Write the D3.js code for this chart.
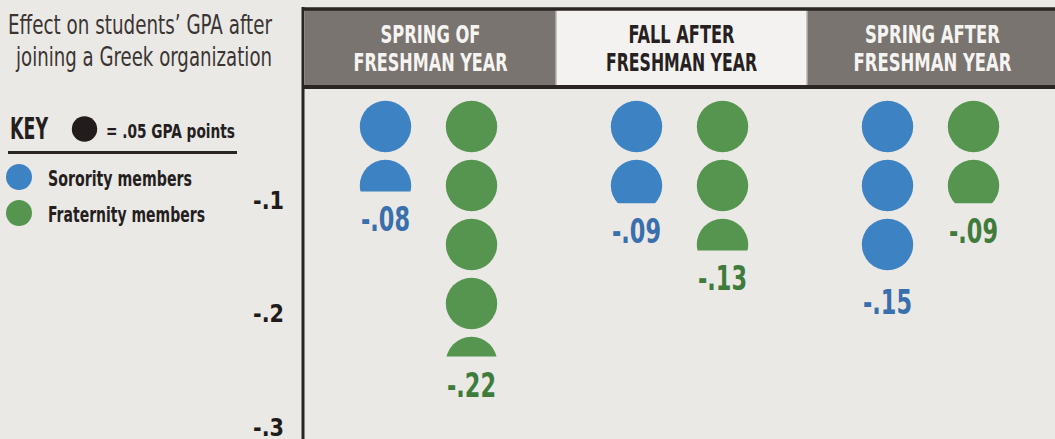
<!DOCTYPE html>
<html>
<head>
<meta charset="utf-8">
<script src="https://cdn.jsdelivr.net/npm/d3@7"></script>
<style>
  body { margin: 0; background: #ebe9e6; }
  svg { display: block; }
</style>
</head>
<body>
<script>
// data
var periods = ["SPRING OF|FRESHMAN YEAR", "FALL AFTER|FRESHMAN YEAR", "SPRING AFTER|FRESHMAN YEAR"];
var groups = ["Sorority members", "Fraternity members"];
var sorority = [-0.08, -0.09, -0.15];
var fraternity = [-0.22, -0.13, -0.09];
var yTicks = [-0.1, -0.2, -0.3];
var tickLabels = ["-.1", "-.2", "-.3"];
var dotValue = 0.05;

var width = 1055, height = 439;
var font = "'Liberation Sans Narrow', 'DejaVu Sans Condensed', 'Roboto', sans-serif";
var ink = "#2a2523";
var colors = {"Sorority members": "#3d82c2", "Fraternity members": "#559550"};
var labelColors = {"Sorority members": "#3a6fad", "Fraternity members": "#3f7c3c"};
var headFill = ["#7a7471", "#f3f2f0", "#7a7471"];
var headText = ["#f6f4f1", "#262120", "#f6f4f1"];

const svg = d3.select("body").append("svg")
    .attr("width", width)
    .attr("height", height);

svg.append("rect").attr("width", width).attr("height", height).attr("fill", "#ebe9e6");

// scales
var x = d3.scaleBand().domain(periods).range([305, 1058]).padding(0);
var xg = d3.scalePoint().domain(groups).range([-45, 41]);
var y = d3.scaleLinear().domain([0, -0.3]).range([97, 451]);
var yAxis = d3.scaleLinear().domain([0, -0.3]).range([95, 436]);

function fit(sel, w) {
    sel.attr("textLength", w).attr("lengthAdjust", "spacingAndGlyphs");
}

// title
var title = svg.append("g").attr("font-family", font).attr("fill", "#3a3533")
    .attr("text-anchor", "end").attr("font-size", 27).attr("font-weight", 300);
title.append("text").attr("x", 272).attr("y", 34).text("Effect on students\u2019 GPA after").call(fit, 264);
title.append("text").attr("x", 272).attr("y", 66).text("joining a Greek organization").call(fit, 256);

// key
var key = svg.append("g").attr("font-family", font).attr("font-weight", "bold").attr("fill", "#241f1e");
key.append("text").attr("x", 10).attr("y", 139).attr("font-size", 30).text("KEY").call(fit, 38);
key.append("circle").attr("cx", 84.5).attr("cy", 129).attr("r", 12.7).attr("fill", "#221d1c");
key.append("text").attr("x", 106).attr("y", 138).attr("font-size", 19.5).text("= .05 GPA points").call(fit, 129);
key.append("line").attr("x1", 8).attr("x2", 237).attr("y1", 152.5).attr("y2", 152.5)
    .attr("stroke", ink).attr("stroke-width", 3);

var legendY = d3.scalePoint().domain(groups).range([177, 213]);
var leg = key.selectAll(".leg").data(groups).enter().append("g").attr("class", "leg");
leg.append("circle").attr("cx", 19).attr("cy", d => legendY(d)).attr("r", 13).attr("fill", d => colors[d]);
leg.append("text").attr("x", 48).attr("y", d => legendY(d) + 8.5).attr("font-size", 21)
    .text(d => d)
    .each(function(d, i) { d3.select(this).call(fit, i == 0 ? 144 : 157); });

// header band
var head = svg.append("g");
head.selectAll("rect").data(periods).enter().append("rect")
    .attr("x", d => x(d)).attr("y", 8).attr("width", x.bandwidth()).attr("height", 79)
    .attr("fill", (d, i) => headFill[i]);
head.selectAll(".sep").data(periods.slice(1)).enter().append("line")
    .attr("x1", d => x(d)).attr("x2", d => x(d)).attr("y1", 10).attr("y2", 86)
    .attr("stroke", "#b9b4b0").attr("stroke-width", 1.5);
head.append("line").attr("x1", 303).attr("x2", width).attr("y1", 9).attr("y2", 9)
    .attr("stroke", ink).attr("stroke-width", 3.5);
head.append("line").attr("x1", 303).attr("x2", width).attr("y1", 87).attr("y2", 87)
    .attr("stroke", ink).attr("stroke-width", 4);

var headLabels = head.selectAll(".hl").data(periods).enter().append("text")
    .attr("font-family", font).attr("font-weight", "bold").attr("font-size", 24.5)
    .attr("text-anchor", "middle")
    .attr("fill", (d, i) => headText[i]);
var line1W = [100, 106, 135], line2W = [154, 151, 158];
headLabels.each(function(d, i) {
    var parts = d.split("|");
    var cx = x(d) + x.bandwidth() / 2;
    d3.select(this).append("tspan").attr("x", cx).attr("y", 43).text(parts[0])
        .call(fit, line1W[i]);
    d3.select(this).append("tspan").attr("x", cx).attr("y", 71).text(parts[1])
        .call(fit, line2W[i]);
});

// y axis line + labels
svg.append("line").attr("x1", 303).attr("x2", 303).attr("y1", 7).attr("y2", height)
    .attr("stroke", ink).attr("stroke-width", 3);
svg.selectAll(".tick").data(yTicks).enter().append("text")
    .attr("x", 284).attr("y", d => yAxis(d))
    .attr("text-anchor", "end").attr("font-family", font).attr("font-weight", "bold")
    .attr("font-size", 25).attr("fill", "#1f1b1a")
    .text((d, i) => tickLabels[i])
    .call(fit, 31);

// dot columns
var cols = [];
periods.forEach(function(p, i) {
    cols.push({period: p, group: groups[0], value: sorority[i]});
    cols.push({period: p, group: groups[1], value: fraternity[i]});
});

var pitch = y(-dotValue) - y(0);
var r = pitch / 2 - 3.8;
var defs = svg.append("defs");

var colG = svg.selectAll(".col").data(cols).enter().append("g").attr("class", "col");
colG.each(function(d, i) {
    var g = d3.select(this);
    var cx = x(d.period) + x.bandwidth() / 2 + xg(d.group);
    var n = Math.ceil(Math.abs(d.value) / dotValue - 1e-9);
    defs.append("clipPath").attr("id", "clip" + i)
        .append("rect").attr("x", cx - 40).attr("width", 80)
        .attr("y", y(0)).attr("height", y(d.value) - y(0));
    g.append("g").attr("clip-path", "url(#clip" + i + ")")
        .selectAll("circle").data(d3.range(n)).enter().append("circle")
        .attr("cx", cx)
        .attr("cy", k => y(-(k + 0.5) * dotValue))
        .attr("r", r)
        .attr("fill", colors[d.group]);
    g.append("text")
        .attr("x", cx).attr("y", y(d.value) + 40)
        .attr("text-anchor", "middle").attr("font-family", font).attr("font-weight", "bold")
        .attr("font-size", 33).attr("fill", labelColors[d.group])
        .text("-" + d3.format(".2f")(Math.abs(d.value)).replace("0.", "."))
        .call(fit, 49);
});
</script>
</body>
</html>
